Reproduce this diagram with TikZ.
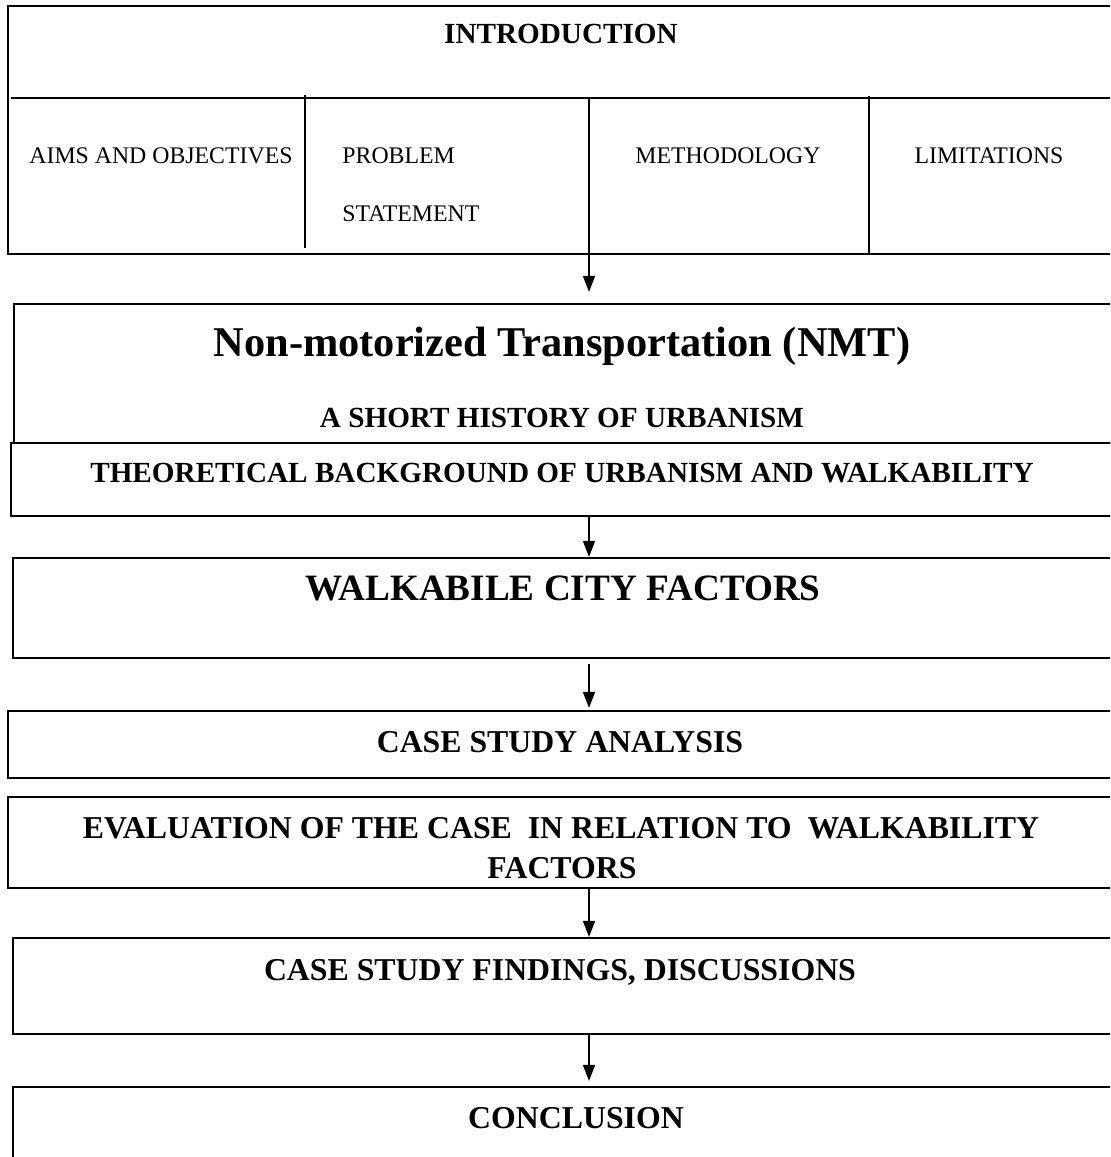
\documentclass[tikz,border=0pt]{standalone}
\usepackage{fontspec}
\setmainfont{Liberation Serif}
\usetikzlibrary{arrows.meta,positioning}

\begin{document}
\begin{tikzpicture}[
      x=0.5pt,y=-0.5pt,
      >={Triangle[length=8pt,width=6pt]},
      blk/.style={draw,line width=1.1pt,inner sep=0pt},
      sub/.style={font=\fontsize{11.9}{14}\selectfont,inner sep=0pt,anchor=base},
      hd/.style={font=\fontsize{14.6}{17}\selectfont\bfseries,inner sep=0pt,anchor=base},
      hdl/.style={font=\fontsize{15.9}{19}\selectfont\bfseries,inner sep=0pt,anchor=base},
      flow/.style={->,line width=0.75pt},
      divl/.style={line width=0.75pt},
    ]
    \useasboundingbox (0,0) rectangle (1110,1157);
    \clip (0,0) rectangle (1110,1157);
    \fill[white] (0,0) rectangle (1110,1157);
    % boxes (they run past the right edge)
    \node[blk,minimum width=581pt,minimum height=124pt]  (intro) at (589,130)    {};
    \node[blk,minimum width=575pt,minimum height=69.5pt] (nmt)   at (589,373.5)  {};
    \node[blk,minimum width=578pt,minimum height=36.5pt] (theo)  at (589,479.5)  {};
    \node[blk,minimum width=576pt,minimum height=50pt]   (walk)  at (589,608)    {};
    \node[blk,minimum width=581pt,minimum height=33.5pt] (csa)   at (589,744.5)  {};
    \node[blk,minimum width=581pt,minimum height=45.5pt] (eval)  at (589,842.5)  {};
    \node[blk,minimum width=576pt,minimum height=48pt]   (find)  at (589,986)    {};
    \node[blk,minimum width=576pt,minimum height=53pt]   (concl) at (589,1140)   {};
    % introduction cells
    \coordinate (ctop) at (589,98);
    \draw[divl] (11,98) -- (intro.east |- ctop);
    \draw[divl] (305,95) -- (305,248);
    \draw[divl] (869,96) -- (869,254);
    % arrows
    \draw[flow,shorten >=5.5pt] (ctop) -- (nmt.north);
    \draw[flow] (theo.south) -- (walk.north);
    \draw[flow,shorten <=2.5pt,shorten >=1pt] (walk.south) -- (csa.north);
    \draw[flow] (eval.south) -- (find.north);
    \draw[flow,shorten >=2.5pt] (find.south) -- (concl.north);
    % texts
    \node[hd] (tintro) at (561,43) {INTRODUCTION};
    \node[sub] (taims) at (161,163) {AIMS AND OBJECTIVES};
    \node[sub,anchor=base west] (tprob) at (342,163) {PROBLEM};
    \node[sub,anchor=base west] (tstat) at (342,221) {STATEMENT};
    \node[sub] (tmeth) at (728,163) {METHODOLOGY};
    \node[sub] (tlim)  at (989,163) {LIMITATIONS};
    \node[hd,font=\fontsize{21.2}{25}\selectfont\bfseries] (tnmt) at (562,356) {Non-motorized Transportation (NMT)};
    \node[hd] (thist) at (562,427) {A SHORT HISTORY OF URBANISM};
    \node[hd] (ttheo) at (562,482) {THEORETICAL BACKGROUND OF URBANISM AND WALKABILITY};
    \node[hd,font=\fontsize{18.6}{22}\selectfont\bfseries] (twalk) at (563,600) {WALKABILE CITY FACTORS};
    \node[hdl] (tcsa)  at (560,752.5)  {CASE STUDY ANALYSIS};
    \node[hdl] (teval) at (561,838.5)  {EVALUATION OF THE CASE~ IN RELATION TO~ WALKABILITY};
    \node[hdl] (tfact) at (562,878.5)  {FACTORS};
    \node[hdl] (tfind) at (560,980.5)  {CASE STUDY FINDINGS, DISCUSSIONS};
    \node[hdl] (tconc) at (576,1128.5) {CONCLUSION};
  \end{tikzpicture}
\end{document}
